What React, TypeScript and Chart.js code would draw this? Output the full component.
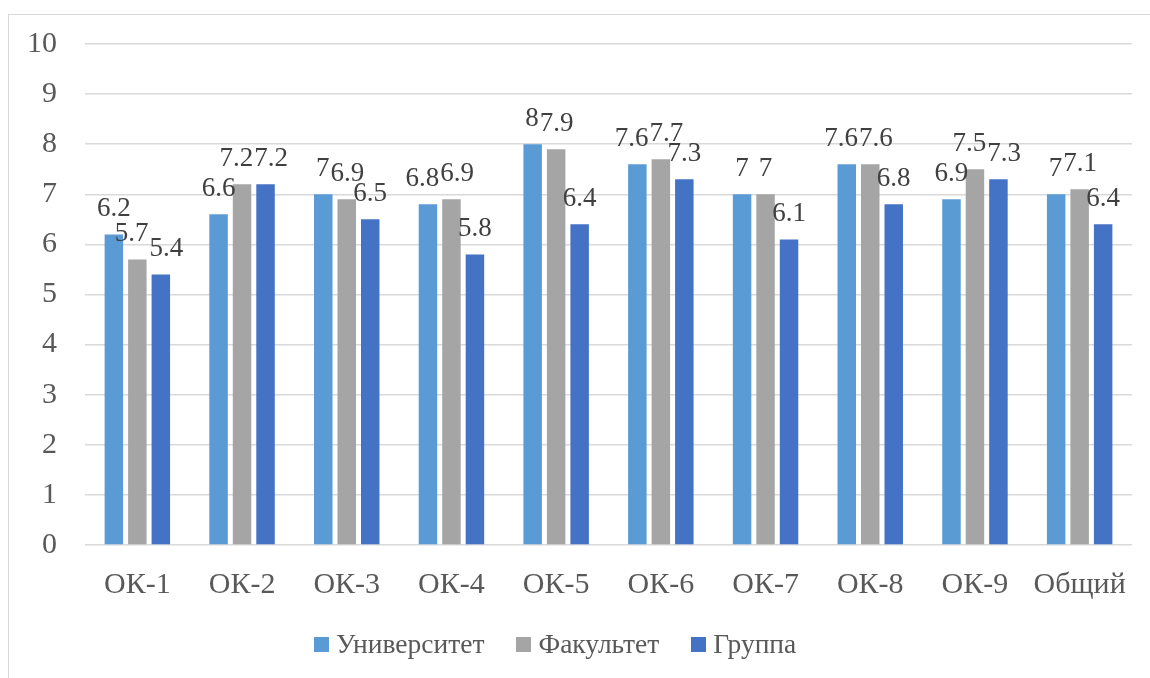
import React, { useEffect, useRef } from "react";
import { Chart, registerables } from "chart.js";

Chart.register(...registerables);

const categories = ["ОК-1", "ОК-2", "ОК-3", "ОК-4", "ОК-5", "ОК-6", "ОК-7", "ОК-8", "ОК-9", "Общий"];
const universityValues = [6.2, 6.6, 7, 6.8, 8, 7.6, 7, 7.6, 6.9, 7];
const facultyValues = [5.7, 7.2, 6.9, 6.9, 7.9, 7.7, 7, 7.6, 7.5, 7.1];
const groupValues = [5.4, 7.2, 6.5, 5.8, 6.4, 7.3, 6.1, 6.8, 7.3, 6.4];
const seriesNames = ["Университет", "Факультет", "Группа"];
const seriesColors = ["#5b9bd5", "#a5a5a5", "#4472c4"];
const yTicks = [0, 1, 2, 3, 4, 5, 6, 7, 8, 9, 10];

const FONT = "'Liberation Serif', 'Times New Roman', serif";

const valueLabels = {
  id: "valueLabels",
  afterDatasetsDraw(chart: any) {
    const ctx = chart.ctx;
    ctx.save();
    ctx.font = `27px ${FONT}`;
    ctx.fillStyle = "#404040";
    ctx.textAlign = "center";
    ctx.textBaseline = "alphabetic";
    const n = chart.data.labels.length;
    const count = chart.data.datasets.length;
    for (let j = 0; j < n; j++) {
      const items: any[] = [];
      for (let i = 0; i < count; i++) {
        const bar = chart.getDatasetMeta(i).data[j];
        const text = String(chart.data.datasets[i].data[j]);
        const w = ctx.measureText(text).width;
        items.push({ text, x: bar.x, y: bar.y - 18, w });
      }
      // spread labels of one group that would collide
      for (let pass = 0; pass < 3; pass++) {
        for (let k = 0; k < items.length - 1; k++) {
          const a = items[k];
          const b = items[k + 1];
          const vOverlap = Math.abs(a.y - b.y) < 19;
          const overlap = a.x + a.w / 2 + 1 - (b.x - b.w / 2);
          if (vOverlap && overlap > 0) {
            a.x -= overlap / 2;
            b.x += overlap / 2;
          }
        }
      }
      items.forEach((it) => ctx.fillText(it.text, it.x, it.y));
    }
    ctx.restore();
  },
};

export default function App() {
  const ref = useRef<HTMLCanvasElement>(null);
  useEffect(() => {
    if (!ref.current) return;
    const chart = new Chart(ref.current, {
      type: "bar",
      data: {
        labels: categories,
        datasets: [universityValues, facultyValues, groupValues].map((d, i) => ({
          label: seriesNames[i],
          data: d,
          backgroundColor: seriesColors[i],
          categoryPercentage: 0.673,
          barPercentage: 0.787,
        })),
      },
      options: {
        animation: false,
        responsive: false,
        maintainAspectRatio: false,
        layout: { padding: { top: 29, right: 18, bottom: 53, left: 0 } },
        plugins: {
          legend: { display: false },
          tooltip: { enabled: false },
        },
        scales: {
          x: {
            grid: { display: false, drawTicks: false },
            border: { display: false },
            ticks: { color: "#595959", font: { family: FONT, size: 30 }, padding: 22 },
            afterFit: (s: any) => { s.height = 80; },
          },
          y: {
            min: 0,
            max: 10,
            afterBuildTicks: (s: any) => { s.ticks = yTicks.map((v) => ({ value: v })); },
            grid: { color: "#d9d9d9", lineWidth: 1.5, drawTicks: true, tickLength: 28, tickColor: "rgba(0,0,0,0)" },
            border: { display: false },
            ticks: { color: "#595959", font: { family: FONT, size: 30 }, padding: 0 },
            afterFit: (s: any) => { s.width = 76; },
          },
        },
      },
      plugins: [valueLabels],
    });
    return () => chart.destroy();
  }, []);

  return (
    <div
      style={{
        position: "absolute",
        left: 8,
        top: 14,
        width: 1142,
        height: 664,
        borderLeft: "1px solid #d9d9d9",
        borderTop: "1px solid #d9d9d9",
        overflow: "hidden",
      }}
    >
      <canvas ref={ref} width={1141} height={663} style={{ display: "block", width: 1141, height: 663 }} />
      <div
        style={{
          position: "absolute",
          left: 305,
          top: 613,
          display: "flex",
          alignItems: "center",
          gap: 32,
          fontFamily: FONT,
          fontSize: 27.5,
          lineHeight: "32px",
          color: "#595959",
          whiteSpace: "nowrap",
        }}
      >
        {seriesNames.map((n, i) => (
          <div key={n} style={{ display: "flex", alignItems: "center" }}>
            <span style={{ display: "inline-block", width: 15, height: 15, background: seriesColors[i], marginRight: 7 }} />
            <span>{n}</span>
          </div>
        ))}
      </div>
    </div>
  );
}
